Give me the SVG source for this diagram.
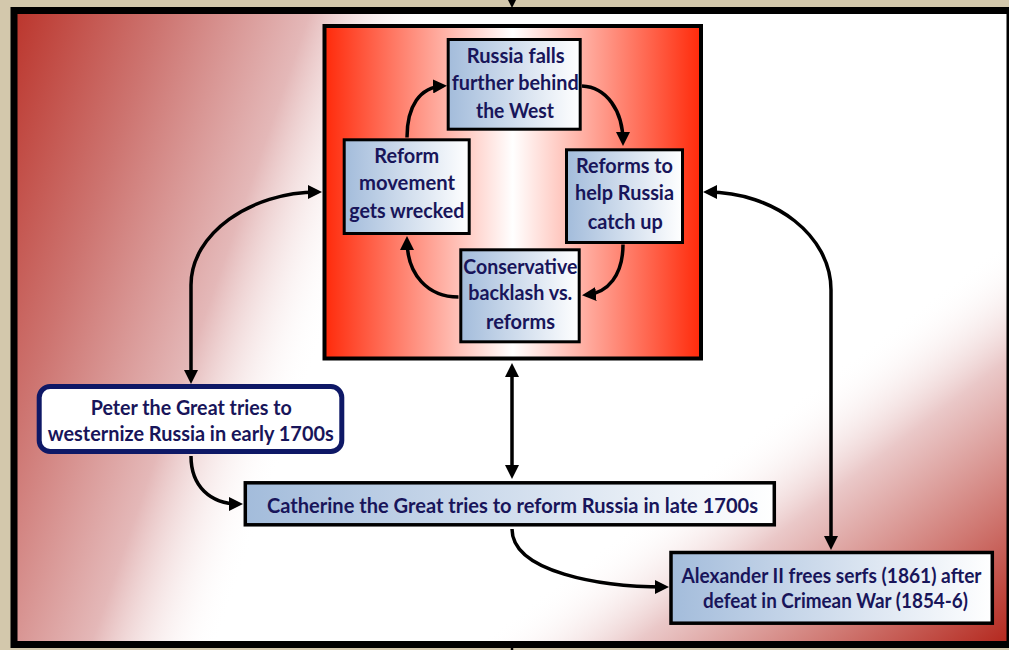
<svg xmlns="http://www.w3.org/2000/svg" width="1009" height="650" viewBox="0 0 1009 650">
  <defs>
    <style>
      .lbl { font-family: Lato, "Open Sans", "Liberation Sans", sans-serif; font-weight: bold; font-size: 21px; fill: #18155A; }
      .tight { font-size: 20px; }
      .box { fill: url(#boxFill); stroke: #000; stroke-width: 3; }
      .wide { stroke-width: 3.5; }
      .link { fill: none; stroke: #000; stroke-width: 3.5; }
    </style>
    <!-- panel wash: red in the top-left corner fading to white -->
    <linearGradient id="washTL" gradientUnits="userSpaceOnUse" x1="14" y1="11" x2="392" y2="142">
      <stop offset="0" stop-color="#BB352C"/>
      <stop offset="0.35" stop-color="#CD7470"/>
      <stop offset="0.7" stop-color="#E4B8B8"/>
      <stop offset="1" stop-color="#FFFFFF" stop-opacity="0"/>
    </linearGradient>
    <!-- panel wash: red in the bottom-right corner -->
    <linearGradient id="washBR" gradientUnits="userSpaceOnUse" x1="484" y1="637" x2="679" y2="893">
      <stop offset="0" stop-color="#FFFFFF" stop-opacity="0"/>
      <stop offset="0.3" stop-color="#EAC8C8"/>
      <stop offset="0.65" stop-color="#D07A74"/>
      <stop offset="1" stop-color="#B4281E"/>
    </linearGradient>
    <!-- central cycle frame: red edges, white middle -->
    <linearGradient id="cycleFill" x1="0" y1="0" x2="1" y2="0">
      <stop offset="0" stop-color="#FF2A0A"/>
      <stop offset="0.5" stop-color="#FFFFFF"/>
      <stop offset="1" stop-color="#FF2A0A"/>
    </linearGradient>
    <!-- node fill: steel blue to white -->
    <linearGradient id="boxFill" x1="0" y1="0" x2="1" y2="0">
      <stop offset="0" stop-color="#A3BCDB"/>
      <stop offset="1" stop-color="#FFFFFF"/>
    </linearGradient>
    <marker id="head" viewBox="0 0 14 14" refX="10" refY="7" markerWidth="14" markerHeight="14" markerUnits="userSpaceOnUse" orient="auto-start-reverse">
      <path d="M0,0 L14,7 L0,14 z" fill="#000"/>
    </marker>
  </defs>

  <!-- page background -->
  <rect x="0" y="0" width="1009" height="650" fill="#D3C8AC"/>

  <!-- main panel -->
  <g id="panel">
    <rect x="14" y="10.5" width="996" height="634" fill="#FFFFFF"/>
    <rect x="14" y="10.5" width="996" height="634" fill="url(#washTL)"/>
    <rect x="14" y="10.5" width="996" height="634" fill="url(#washBR)"/>
    <rect x="14" y="10.5" width="996" height="634" fill="none" stroke="#000" stroke-width="7"/>
  </g>

  <!-- cycle frame -->
  <g id="cycle-frame">
    <rect x="324.5" y="26" width="376.5" height="332.5" fill="url(#cycleFill)" stroke="#000" stroke-width="4"/>
  </g>

  <!-- connectors -->
  <g id="connectors">
    <!-- lines entering / leaving the panel -->
    <path class="link" d="M512,-14 L512,4" marker-end="url(#head)"/>
    <path d="M512,641 L512,652" stroke="#000" stroke-width="2.5"/>

    <!-- cycle -->
    <path class="link" d="M407,137.5 C407,106 420,87 443,86" marker-end="url(#head)"/>
    <path class="link" d="M582,86 C606,87 623,110 623,142" marker-end="url(#head)"/>
    <path class="link" d="M623,244.5 C623,275 608,293 586,295" marker-end="url(#head)"/>
    <path class="link" d="M458.5,297 C428,297 407,275 407,240" marker-end="url(#head)"/>

    <!-- frame to the surrounding events -->
    <path class="link" d="M191,380 L191,285 C191,234 250,192 318,192" marker-start="url(#head)" marker-end="url(#head)"/>
    <path class="link" d="M707,192 C775,192 831,236 831,290 L831,546" marker-start="url(#head)" marker-end="url(#head)"/>
    <path class="link" d="M512,367 L512,475" marker-start="url(#head)" marker-end="url(#head)"/>

    <!-- chronology -->
    <path class="link" d="M191,456 C191,486 210,504 239,504" marker-end="url(#head)"/>
    <path class="link" d="M512,529 C512,572 600,587 665,587" marker-end="url(#head)"/>
  </g>

  <!-- cycle nodes -->
  <g id="node-falls-behind">
    <rect class="box" x="448.2" y="39.5" width="132" height="89.7"/>
    <text class="lbl" x="466.7" y="63" textLength="98" lengthAdjust="spacingAndGlyphs">Russia falls</text>
    <text class="lbl" x="451.7" y="90" textLength="127" lengthAdjust="spacingAndGlyphs">further behind</text>
    <text class="lbl" x="476" y="118" textLength="78" lengthAdjust="spacingAndGlyphs">the West</text>
  </g>
  <g id="node-reforms">
    <rect class="box" x="566.5" y="149.8" width="116" height="92.7"/>
    <text class="lbl" x="576" y="173.3" textLength="97" lengthAdjust="spacingAndGlyphs">Reforms to</text>
    <text class="lbl" x="575" y="200" textLength="99" lengthAdjust="spacingAndGlyphs">help Russia</text>
    <text class="lbl" x="587.7" y="229.3" textLength="75" lengthAdjust="spacingAndGlyphs">catch up</text>
  </g>
  <g id="node-backlash">
    <rect class="box" x="460.8" y="249.8" width="118.4" height="92"/>
    <text class="lbl" x="463.3" y="274" textLength="114" lengthAdjust="spacingAndGlyphs">Conservative</text>
    <text class="lbl" x="468.3" y="300" textLength="104" lengthAdjust="spacingAndGlyphs">backlash vs.</text>
    <text class="lbl" x="486" y="329.3" textLength="69" lengthAdjust="spacingAndGlyphs">reforms</text>
  </g>
  <g id="node-wrecked">
    <rect class="box" x="344.2" y="139.8" width="125" height="93.7"/>
    <text class="lbl" x="374.3" y="163.3" textLength="65" lengthAdjust="spacingAndGlyphs">Reform</text>
    <text class="lbl" x="359" y="190" textLength="96" lengthAdjust="spacingAndGlyphs">movement</text>
    <text class="lbl" x="349.3" y="218.3" textLength="115" lengthAdjust="spacingAndGlyphs">gets wrecked</text>
  </g>

  <!-- historical events -->
  <g id="node-peter">
    <rect x="39.2" y="386.5" width="302.6" height="65" rx="11" fill="#FFFFFF" stroke="#0E1866" stroke-width="5"/>
    <text class="lbl" x="90.7" y="415" textLength="201" lengthAdjust="spacingAndGlyphs">Peter the Great tries to</text>
    <text class="lbl" x="47.7" y="440.7" textLength="286" lengthAdjust="spacingAndGlyphs">westernize Russia in early 1700s</text>
  </g>
  <g id="node-catherine">
    <rect class="box wide" x="245.3" y="482.8" width="529" height="42"/>
    <text class="lbl" x="267" y="513" textLength="491" lengthAdjust="spacingAndGlyphs">Catherine the Great tries to reform Russia in late 1700s</text>
  </g>
  <g id="node-alexander">
    <rect class="box wide" x="671" y="552.5" width="321.3" height="70.7"/>
    <text class="lbl tight" x="681.5" y="583.3" textLength="300" lengthAdjust="spacingAndGlyphs">Alexander II frees serfs (1861) after</text>
    <text class="lbl tight" x="703" y="608.3" textLength="265" lengthAdjust="spacingAndGlyphs">defeat in Crimean War (1854-6)</text>
  </g>
</svg>
